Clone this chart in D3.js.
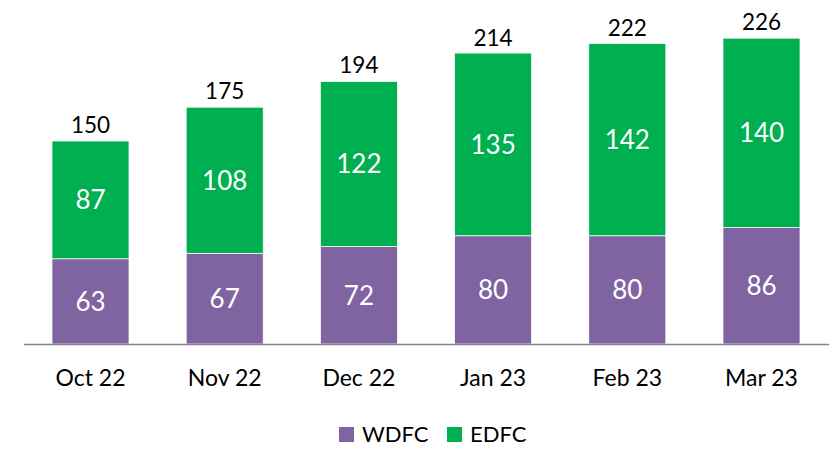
<!DOCTYPE html>
<html><head><meta charset="utf-8">
<script src="https://cdn.jsdelivr.net/npm/d3@7"></script>
<style>body{margin:0;background:#fff}svg{display:block}text{font-family:Lato,"Open Sans",sans-serif}</style>
</head><body><svg id="c" width="833" height="449"></svg>
<script>
const categories = ["Oct 22","Nov 22","Dec 22","Jan 23","Feb 23","Mar 23"];
const wdfc = [63,67,72,80,80,86];
const edfc = [87,108,122,135,142,140];
const totals = [150,175,194,214,222,226];
const seriesNames = ["WDFC","EDFC"];
const colors = {WDFC:"#8064A2", EDFC:"#00B050"};

const svg = d3.select("#c");
const x = d3.scaleBand().domain(categories).range([23.4,828.6]).paddingInner(0.426).paddingOuter(0.213);
const y = d3.scaleLinear().domain([0,250]).range([344,344-338.3]);

const data = categories.map((c,i)=>({cat:c, WDFC:wdfc[i], EDFC:edfc[i], total:totals[i]}));
const stack = d3.stack().keys(seriesNames)(data);

const g = svg.append("g");
stack.forEach(layer=>{
  const key = layer.key;
  g.selectAll(null).data(layer).enter().append("rect")
    .attr("x", d=>x(d.data.cat))
    .attr("width", x.bandwidth())
    .attr("y", d=>y(d[1]))
    .attr("height", d=>y(d[0])-y(d[1]))
    .attr("fill", colors[key])
    .attr("stroke","#fff").attr("stroke-width",0.75);
  g.selectAll(null).data(layer).enter().append("text")
    .attr("x", d=>x(d.data.cat)+x.bandwidth()/2)
    .attr("y", d=>(y(d[0])+y(d[1]))/2)
    .attr("dy","0.36em")
    .attr("text-anchor","middle")
    .attr("fill","#fff")
    .attr("font-size",26)
    .text(d=>d.data[key]);
});

g.selectAll(null).data(data).enter().append("text")
  .attr("x", d=>x(d.cat)+x.bandwidth()/2)
  .attr("y", d=>y(d.total)-8)
  .attr("text-anchor","middle")
  .attr("fill","#000")
  .attr("font-size",22.5)
  .text(d=>d.total);

// axis
const axis = d3.axisBottom(x).tickSize(0).tickPadding(0);
const ax = svg.append("g").attr("transform","translate(0,344)").call(axis);
ax.select(".domain").attr("stroke","#868686").attr("stroke-width",1.5);
ax.selectAll(".tick text").attr("font-size",23).attr("fill","#000").attr("font-family","Lato,'Open Sans',sans-serif").attr("dy",null).attr("y",42);

// legend
const legend = svg.append("g");
const lx = [339,447];
seriesNames.forEach((s,i)=>{
  legend.append("rect").attr("x",lx[i]).attr("y",427).attr("width",15).attr("height",15).attr("fill",colors[s]);
  legend.append("text").attr("x",lx[i]+23).attr("y",442).attr("font-size",22).attr("fill","#000").text(s);
});
</script></body></html>
